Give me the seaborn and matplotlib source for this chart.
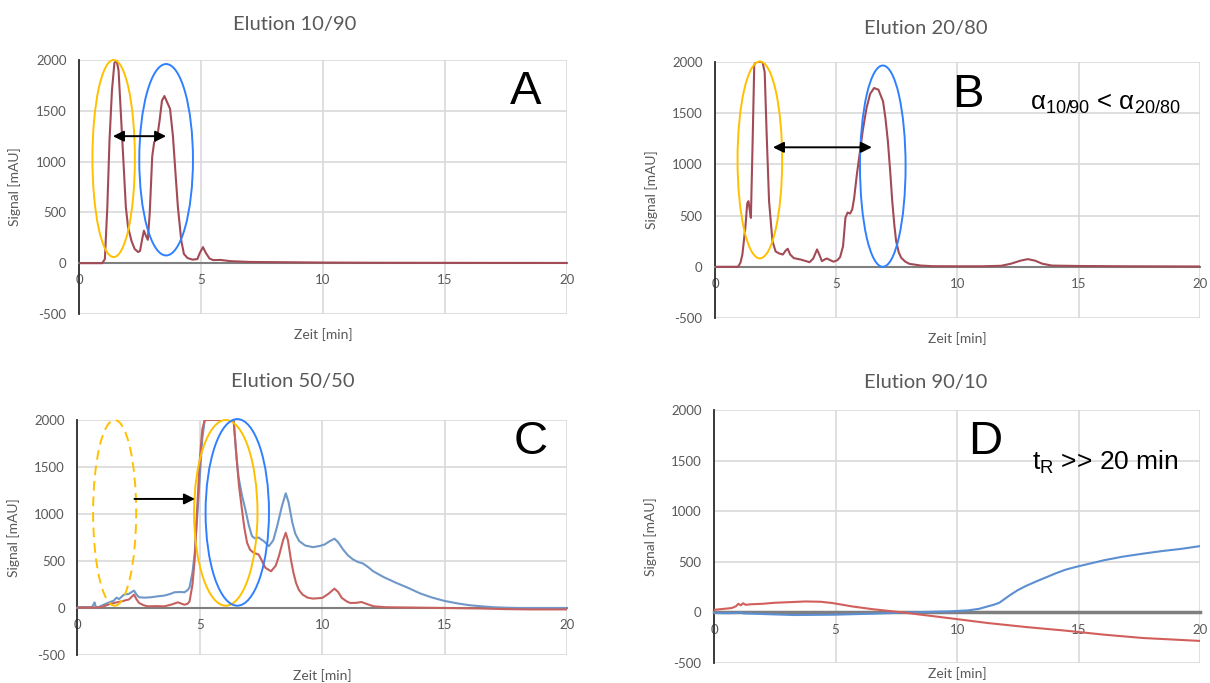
import numpy as np
import pandas as pd
import matplotlib
matplotlib.use("Agg")
import matplotlib.pyplot as plt
import seaborn as sns
from matplotlib.patches import Ellipse

# ---------------- data ----------------
XTICKS = [0, 5, 10, 15, 20]
YTICKS = [-500, 0, 500, 1000, 1500, 2000]
TITLES = ["Elution 10/90", "Elution 20/80", "Elution 50/50", "Elution 90/10"]
PANEL_LETTERS = ["A", "B", "C", "D"]

a_time = [0, 0.95, 1.06, 1.16, 1.25, 1.35, 1.45, 1.54, 1.62, 1.70, 1.81, 1.92, 2.01, 2.15,
          2.28, 2.42, 2.5, 2.6, 2.66, 2.74, 2.82, 2.9, 3.0, 3.08, 3.2, 3.3, 3.4, 3.5, 3.6,
          3.73, 3.85, 3.95, 4.05, 4.19, 4.3, 4.45, 4.65, 4.85, 4.95, 5.08, 5.2, 5.35, 5.5,
          5.8, 6.2, 7, 8, 10, 12, 15, 20]
a_signal = [0, 0, 40, 550, 1210, 1700, 1970, 1995, 1900, 1540, 1050, 550, 355, 220,
            140, 110, 120, 250, 320, 270, 230, 500, 1050, 1190, 1230, 1400, 1600, 1645, 1590,
            1520, 1250, 900, 560, 224, 90, 50, 35, 40, 100, 158, 100, 45, 30,
            32, 20, 12, 10, 6, 4, 3, 2]

b_time = [0, 0.95, 1.05, 1.13, 1.25, 1.33, 1.38, 1.43, 1.48, 1.55, 1.62, 1.7, 1.96, 2.05,
          2.13, 2.23, 2.37, 2.5, 2.65, 2.8, 2.92, 3.0, 3.1, 3.25, 3.55, 3.9, 4.05, 4.21, 4.3,
          4.41, 4.55, 4.62, 4.75, 4.89, 5.05, 5.16, 5.28, 5.38, 5.47, 5.57, 5.66, 5.74, 5.85,
          5.98, 6.1, 6.25, 6.4, 6.56, 6.74, 6.93, 7.03, 7.13, 7.22, 7.31, 7.4, 7.47, 7.58,
          7.68, 7.85, 8.02, 8.5, 9, 10, 11, 11.8, 12.2, 12.6, 12.9, 13.2, 13.5, 13.9, 15, 17, 20]
b_signal = [0, 0, 40, 121, 380, 620, 641, 560, 478, 1200, 1975, 2000, 2000, 1900,
            1300, 640, 250, 150, 130, 120, 160, 176, 120, 85, 70, 45, 80, 170, 120,
            55, 75, 81, 65, 50, 65, 95, 200, 480, 530, 520, 560, 673, 900,
            1129, 1340, 1551, 1690, 1746, 1730, 1616, 1450, 1226, 950, 641, 400, 250, 140,
            88, 50, 29, 12, 6, 5, 5, 10, 30, 60, 75, 60, 30, 12, 8, 5, 3]

c_time_red = [0, 0.7, 0.9, 1.07, 1.3, 1.6, 1.8, 1.95, 2.1, 2.31, 2.42, 2.52, 2.7, 2.86, 3.2,
              3.55, 3.82, 4.1, 4.37, 4.5, 4.58, 4.7, 4.79, 4.9, 5.0, 5.1, 5.2, 6.38, 6.5,
              6.6, 6.72, 6.82, 6.93, 7.05, 7.2, 7.4, 7.5, 7.68, 7.91, 8.1, 8.23, 8.4, 8.51,
              8.6, 8.72, 8.82, 8.93, 9.05, 9.2, 9.4, 9.62, 10.0, 10.25, 10.5, 10.65, 10.8,
              11.0, 11.15, 11.4, 11.6, 11.85, 12.1, 12.6, 13.5, 15, 16.5, 17.5, 18.5, 20]
c_signal_red = [5, 5, 8, 17, 40, 60, 70, 81, 90, 142, 90, 53, 30, 18, 20,
                18, 35, 60, 35, 45, 71, 250, 516, 1100, 1583, 1900, 2000, 2000, 1600,
                1300, 1049, 850, 694, 620, 587, 569, 520, 427, 391, 450, 551, 720, 800,
                720, 516, 380, 267, 190, 142, 110, 100, 107, 150, 206, 170, 107,
                70, 53, 55, 64, 40, 18, 8, 5, 0, -5, -12, -15, -15]

c_time_blue = [0, 0.6, 0.7, 0.75, 0.85, 1.07, 1.3, 1.48, 1.6, 1.7, 1.9, 2.1, 2.31, 2.42,
               2.52, 2.75, 3.0, 3.3, 3.55, 3.8, 3.96, 4.2, 4.37, 4.5, 4.58, 4.7, 4.79, 4.9,
               5.0, 5.1, 5.2, 6.38, 6.5, 6.58, 6.72, 6.86, 7.0, 7.13, 7.25, 7.4, 7.5, 7.61,
               7.82, 8.0, 8.16, 8.35, 8.51, 8.62, 8.78, 8.9, 9.06, 9.3, 9.62, 9.9, 10.1,
               10.3, 10.5, 10.65, 10.85, 11.05, 11.26, 11.45, 11.67, 11.9, 12.08, 12.5, 13.0,
               13.5, 14.0, 14.5, 15.0, 15.5, 16.0, 16.5, 17.0, 17.5, 18, 20]
c_signal_blue = [10, 10, 60, 12, 8, 35, 60, 78, 110, 95, 142, 150, 185, 140,
                 114, 110, 114, 125, 132, 150, 167, 170, 167, 190, 220, 380, 576, 1000,
                 1395, 1800, 2000, 2000, 1600, 1395, 1200, 1049, 880, 765, 740, 750, 730, 712,
                 658, 720, 871, 1080, 1220, 1130, 907, 790, 712, 665, 647, 660, 676,
                 710, 737, 700, 623, 560, 516, 490, 473, 430, 391, 330, 270,
                 215, 155, 110, 75, 50, 30, 18, 8, 3, 0, 0]

d_time_red = [0, 0.4, 0.73, 0.9, 1.0, 1.1, 1.2, 1.3, 1.5, 2.0, 2.49, 3.0, 3.76, 4.4, 4.88,
              5.3, 5.68, 6.48, 7.1, 7.75, 8.87, 9.98, 11.26, 12.85, 14.45, 16.04, 17.64, 20]
d_signal_red = [25, 35, 43, 60, 85, 70, 90, 75, 80, 85, 95, 100, 108, 105, 92,
                75, 59, 33, 17, 0, -33, -66, -105, -145, -180, -220, -253, -282]

d_time_blue = [0, 0.6, 1.0, 1.1, 1.2, 1.5, 2.5, 3.3, 4.9, 6.5, 8.07, 9.67, 10.46, 10.9,
               11.26, 11.5, 11.74, 12.0, 12.2, 12.5, 12.85, 13.25, 13.65, 14.05, 14.45,
               14.85, 15.25, 16.04, 16.8, 17.64, 18.4, 19.23, 20]
d_signal_blue = [-5, -8, -5, 5, -10, -12, -20, -26, -23, -13, 0, 10, 20, 35,
                 59, 75, 95, 140, 174, 220, 263, 305, 345, 385, 421,
                 447, 470, 515, 550, 580, 605, 628, 655]

# ---------------- styling ----------------
sns.set_theme(style="white")
plt.rcParams["font.family"] = ["Lato", "DejaVu Sans"]
plt.rcParams["mathtext.default"] = "regular"
plt.rcParams["axes.unicode_minus"] = False

GRAY_TXT = "#595959"
GRID = "#d9d9d9"
MAROON = "#a24b56"
RED = "#c5625f"
BLUE = "#6f98c8"
D_RED = "#d25f5c"
D_BLUE = "#5b8fd2"
YELLOW = "#ffc000"
EBLUE = "#2f80ff"

fig = plt.figure(figsize=(12.1, 6.83), dpi=100)

axes_pos = [
    [0.0653, 0.5403, 0.4033, 0.3719],
    [0.5909, 0.5344, 0.4008, 0.3748],
    [0.0640, 0.0410, 0.4046, 0.3441],
    [0.5901, 0.0293, 0.4017, 0.3704],
]
title_xy = [(0.442, 1.14), (0.435, 1.13), (0.44, 1.165), (0.435, 1.11)]
xlabel_y = [-0.055, -0.055, -0.06, -0.018]
axs = [fig.add_axes(p) for p in axes_pos]


def setup(ax, title, txy, xly, zero_lw=1.5):
    ax.set_xlim(0, 20)
    ax.set_ylim(-500, 2000)
    ax.set_xticks(XTICKS)
    ax.set_yticks(YTICKS)
    ax.set_axisbelow(True)
    ax.grid(True, color=GRID, lw=1.2)
    for s in ["top", "right"]:
        ax.spines[s].set_visible(False)
    ax.spines["left"].set_color("#2b2b2b")
    ax.spines["left"].set_linewidth(1.3)
    ax.spines["bottom"].set_position(("data", 0))
    ax.spines["bottom"].set_color("#7f7f7f")
    ax.spines["bottom"].set_linewidth(zero_lw)
    ax.tick_params(axis="both", length=0, colors=GRAY_TXT, labelsize=9.5)
    ax.tick_params(axis="x", pad=8)
    ax.tick_params(axis="y", pad=9)
    ax.set_xlabel("Zeit [min]", fontsize=10, color=GRAY_TXT)
    ax.set_ylabel("Signal [mAU]", fontsize=10, color=GRAY_TXT)
    ax.xaxis.set_label_coords(0.5, xly)
    ax.yaxis.set_label_coords(-0.118, 0.5)
    ax.text(txy[0], txy[1], title, transform=ax.transAxes, ha="center", va="center",
            fontsize=14.5, color=GRAY_TXT)
    ax.set_facecolor("white")


def line(ax, t, s, color, lw=1.5):
    df = pd.DataFrame({"t": t, "s": s})
    sns.lineplot(data=df, x="t", y="s", ax=ax, color=color, lw=lw,
                 estimator=None, sort=False, zorder=3)


def ellipse(ax, cx, cy, w, h, color, ls="-"):
    e = Ellipse((cx, cy), w, h, fill=False, ec=color, lw=1.4, ls=ls, clip_on=False, zorder=4)
    ax.add_patch(e)


def arrow(ax, x0, x1, y, style):
    ax.annotate("", xy=(x1, y), xytext=(x0, y),
                arrowprops=dict(arrowstyle=style, color="black", lw=1.4,
                                mutation_scale=16, shrinkA=0, shrinkB=0), zorder=5)


BIG = dict(fontsize=34, family="Liberation Sans", color="black", ha="center", va="center")
ANN = dict(family="Liberation Sans", color="black", ha="left", va="center")

# Panel A
ax = axs[0]
line(ax, a_time, a_signal, MAROON)
setup(ax, TITLES[0], title_xy[0], xlabel_y[0])
ellipse(ax, 1.42, 1030, 1.74, 1940, YELLOW)
ellipse(ax, 3.57, 1018, 2.2, 1884, EBLUE)
arrow(ax, 1.39, 3.57, 1250, "<|-|>")
ax.text(18.3, 1685, PANEL_LETTERS[0], **BIG)

# Panel B
ax = axs[1]
line(ax, b_time, b_signal, MAROON)
setup(ax, TITLES[1], title_xy[1], xlabel_y[1])
ellipse(ax, 1.85, 1044, 1.84, 1923, YELLOW)
ellipse(ax, 6.92, 983, 1.88, 1966, EBLUE)
arrow(ax, 2.39, 6.47, 1167, "<|-|>")
ax.text(10.43, 1676, PANEL_LETTERS[1], **BIG)
ax.text(13.0, 1590, r"$\alpha_{10/90}$ < $\alpha_{20/80}$", fontsize=18.5, **ANN)

# Panel C
ax = axs[2]
line(ax, c_time_blue, c_signal_blue, BLUE)
line(ax, c_time_red, c_signal_red, RED)
setup(ax, TITLES[2], title_xy[2], xlabel_y[2])
ellipse(ax, 1.52, 1012, 1.76, 1975, YELLOW, ls=(0, (5, 3)))
ellipse(ax, 6.06, 1012, 2.59, 1975, YELLOW)
ellipse(ax, 6.53, 1017, 2.59, 1985, EBLUE)
arrow(ax, 2.33, 4.8, 1160, "-|>")
ax.text(18.5, 1766, PANEL_LETTERS[2], **BIG)

# Panel D
ax = axs[3]
line(ax, d_time_blue, d_signal_blue, D_BLUE)
line(ax, d_time_red, d_signal_red, D_RED)
setup(ax, TITLES[3], title_xy[3], xlabel_y[3], zero_lw=2.5)
ax.text(11.15, 1683, PANEL_LETTERS[3], **BIG)
ax.text(13.1, 1485, r"$t_R$ >> 20 min", fontsize=19, **ANN)

fig.savefig("out.png", dpi=100, facecolor="white")
